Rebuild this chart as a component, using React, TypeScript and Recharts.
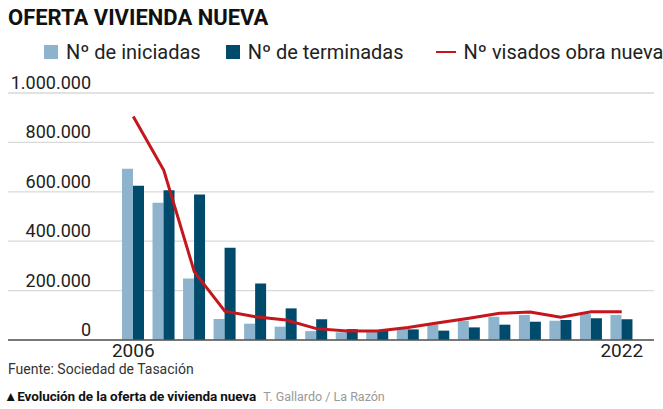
import { ComposedChart, Bar, Line, XAxis, YAxis, CartesianGrid } from 'recharts';

const years = [2006, 2007, 2008, 2009, 2010, 2011, 2012, 2013, 2014, 2015, 2016, 2017, 2018, 2019, 2020, 2021, 2022];
const iniciadas = [693000, 556000, 249000, 85000, 66000, 54000, 36000, 31000, 34000, 47000, 63000, 78000, 94000, 101000, 78000, 105000, 101000];
const terminadas = [625000, 606000, 589000, 373000, 229000, 128000, 84000, 44000, 38000, 43000, 38000, 51000, 62000, 74000, 81000, 88000, 84000];
const visados = [905000, 687000, 276000, 117000, 94000, 81000, 46000, 36000, 36000, 51000, 70000, 88000, 108000, 113000, 92000, 114000, 114000];
const yTicks = [0, 200000, 400000, 600000, 800000, 1000000];
const shownYears = [2006, 2022];

const LIGHT = '#8db4cc';
const DARK = '#004b6c';
const RED = '#c4161c';
const FONT = 'Roboto, "Noto Sans", sans-serif';

const data = years.map((year, i) => ({
  year,
  iniciadas: iniciadas[i],
  terminadas: terminadas[i],
  visados: visados[i],
}));

const fmt = (v: number) => String(v).replace(/\B(?=(\d{3})+(?!\d))/g, '.');

function YTick({ y, payload }: any) {
  return (
    <text x={91} y={y - 4} textAnchor="end" fontSize={18} fill="#222" fontFamily={FONT}>
      {fmt(payload.value)}
    </text>
  );
}

function XTick({ x, y, payload }: any) {
  if (!shownYears.includes(payload.value)) return null;
  return (
    <text x={x} y={y} dy={9} textAnchor="middle" fontSize={19} fill="#222" fontFamily={FONT}>
      {payload.value}
    </text>
  );
}

export default function App() {
  return (
    <div style={{ position: 'absolute', left: 0, top: 0, width: 663, height: 409, background: '#fff', fontFamily: FONT }}>
      <div style={{ position: 'absolute', left: 8, top: 5, fontSize: 22, fontWeight: 700, color: '#111' }}>
        OFERTA VIVIENDA NUEVA
      </div>
      <div style={{ position: 'absolute', left: 44, top: 40, fontSize: 20, color: '#222', display: 'flex', alignItems: 'center', whiteSpace: 'nowrap' }}>
        <span style={{ width: 14, height: 14, background: LIGHT, marginRight: 8 }} />
        <span>Nº de iniciadas</span>
        <span style={{ width: 14, height: 14, background: DARK, marginLeft: 25, marginRight: 8 }} />
        <span>Nº de terminadas</span>
        <span style={{ width: 20, height: 2, background: RED, marginLeft: 32, marginRight: 8 }} />
        <span>Nº visados obra nueva</span>
      </div>
      <div style={{ position: 'absolute', left: 0, top: 0 }}>
        <ComposedChart width={663} height={409} data={data} margin={{ top: 93, right: 9, bottom: 39, left: 7 }} barGap={0}>
          <CartesianGrid vertical={false} stroke="#d9d9d9" strokeWidth={1.3} />
          <XAxis
            dataKey="year"
            height={30}
            interval={0}
            tickLine={false}
            axisLine={{ stroke: '#555', strokeWidth: 1.3 }}
            padding={{ left: 110, right: 17 }}
            tick={<XTick />}
          />
          <YAxis
            width={1}
            domain={[0, 1000000]}
            ticks={yTicks}
            interval={0}
            axisLine={false}
            tickLine={false}
            tick={<YTick />}
          />
          <Bar dataKey="iniciadas" fill={LIGHT} barSize={11} isAnimationActive={false} />
          <Bar dataKey="terminadas" fill={DARK} barSize={11} isAnimationActive={false} />
          <Line dataKey="visados" type="linear" stroke={RED} strokeWidth={3} dot={false} isAnimationActive={false} />
        </ComposedChart>
      </div>
      <div style={{ position: 'absolute', left: 8, top: 361, fontSize: 14, color: '#333' }}>
        Fuente: Sociedad de Tasación
      </div>
      <div style={{ position: 'absolute', left: 4, top: 386, whiteSpace: 'nowrap' }}>
        <span style={{ fontWeight: 700, color: '#111', fontSize: 13.5, letterSpacing: -0.1 }}>▲Evolución de la oferta de vivienda nueva</span>
        <span style={{ color: '#999', marginLeft: 7, fontSize: 12.5 }}>T. Gallardo / La Razón</span>
      </div>
    </div>
  );
}
